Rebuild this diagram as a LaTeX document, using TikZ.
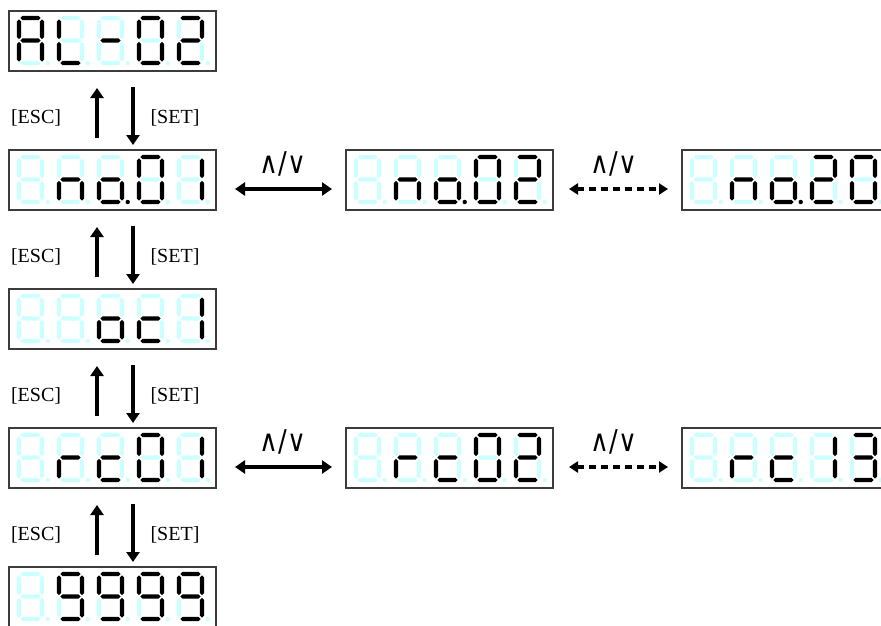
\documentclass[tikz,border=0pt]{standalone}
\usepackage{fontspec}
\setmainfont{Liberation Serif}
\newfontfamily\symfont[FakeStretch=0.86]{DejaVu Sans}
\usetikzlibrary{arrows.meta}
\definecolor{segoff}{RGB}{204,255,255}
\definecolor{boxline}{RGB}{60,60,60}
\newcommand\segsetcol[1]{\ifnum#1=1 \def\segcol{black}\else\def\segcol{segoff}\fi}
\newcommand\hs[3]{\segsetcol{#1}%
  \fill[fill=\segcol] (#2,#3) -- ++(2.2,-2.2) -- ++(16,0) -- ++(2.2,2.2) -- ++(-2.2,2.2) -- ++(-16,0) -- cycle;}
\newcommand\vs[3]{\segsetcol{#1}%
  \fill[fill=\segcol] (#2,#3) -- ++(2.2,2.2) -- ++(0,15.5) -- ++(-2.2,2.2) -- ++(-2.2,-2.2) -- ++(0,-15.5) -- cycle;}
\def\dgp#1#2#3#4#5#6#7#8\relax{%
  \hs{#1}{3.3}{2}%
  \vs{#2}{25}{3.3}%
  \vs{#3}{25}{25.8}%
  \hs{#4}{3.3}{47}%
  \vs{#5}{2}{25.8}%
  \vs{#6}{2}{3.3}%
  \hs{#7}{3.3}{24.5}%
  \segsetcol{#8}%
  \fill[fill=\segcol] (30.7,47) circle[radius=2.2];}
\newcommand\dg[3]{\begin{scope}[shift={(#1,#2)}]\expandafter\dgp#3\relax\end{scope}}
\newcommand\disp[8]{%
  \node[dispbox] (#1) at (#2,#3) {};
  \dg{#2+8}{#3+5}{#4}\dg{#2+48}{#3+5}{#5}\dg{#2+88}{#3+5}{#6}\dg{#2+128}{#3+5}{#7}\dg{#2+168}{#3+5}{#8}}
\def\dOff{00000000}
\def\dA{11101110}
\def\dL{00011100}
\def\dMinus{00000010}
\def\dZero{11111100}
\def\dTwo{11011010}
\def\dN{00101010}
\def\dOdot{00111011}
\def\dO{00111010}
\def\dOne{01100000}
\def\dC{00011010}
\def\dR{00001010}
\def\dThree{11110010}
\def\dNine{11110110}
\begin{document}
\begin{tikzpicture}[x=1pt,y=-1pt,
  dispbox/.style={draw=boxline,line width=1.2pt,fill=white,minimum width=207pt,minimum height=60pt,inner sep=0pt,outer sep=0pt,anchor=north west},
  varrow/.style={line width=4pt,-{Triangle[width=13pt,length=10pt]}},
  harrow/.style={line width=4pt,{Triangle[width=13pt,length=10pt]}-{Triangle[width=13pt,length=10pt]}},
  darrow/.style={line width=4pt,dash pattern=on 7pt off 5pt,{Triangle[width=11pt,length=9pt]}-{Triangle[width=11pt,length=9pt]}},
  keylabel/.style={font=\fontsize{20}{24}\selectfont,inner sep=0pt},
  navlabel/.style={font=\symfont\fontsize{30}{34}\selectfont,inner sep=0pt}]
\useasboundingbox (0,0) rectangle (881,626);
\disp{b1}{9}{11}{\dA}{\dL}{\dMinus}{\dZero}{\dTwo}
\disp{b2}{9}{150}{\dOff}{\dN}{\dOdot}{\dZero}{\dOne}
\disp{b3}{346}{150}{\dOff}{\dN}{\dOdot}{\dZero}{\dTwo}
\disp{b4}{682}{150}{\dOff}{\dN}{\dOdot}{\dTwo}{\dZero}
\disp{b5}{9}{289}{\dOff}{\dOff}{\dO}{\dC}{\dOne}
\disp{b6}{9}{428}{\dOff}{\dR}{\dC}{\dZero}{\dOne}
\disp{b7}{346}{428}{\dOff}{\dR}{\dC}{\dZero}{\dTwo}
\disp{b8}{682}{428}{\dOff}{\dR}{\dC}{\dOne}{\dThree}
\disp{b9}{9}{567}{\dOff}{\dNine}{\dNine}{\dNine}{\dNine}
% vertical arrows
\foreach \u/\l in {b1/b2,b2/b5,b5/b6,b6/b9}{
  \draw[varrow] ([xshift=88pt,yshift=12pt]\l.north west) -- ([xshift=88pt,yshift=-17pt]\u.south west);
  \draw[varrow] ([xshift=124pt,yshift=-16pt]\u.south west) -- ([xshift=124pt,yshift=5pt]\l.north west);
}
\node[keylabel] (esc1) at (36,118) {[ESC]};
\node[keylabel] (set1) at (175,118) {[SET]};
\node[keylabel] (esc2) at (36,257) {[ESC]};
\node[keylabel] (set2) at (175,257) {[SET]};
\node[keylabel] (esc3) at (36,396) {[ESC]};
\node[keylabel] (set3) at (175,396) {[SET]};
\node[keylabel] (esc4) at (36,535) {[ESC]};
\node[keylabel] (set4) at (175,535) {[SET]};
% horizontal arrows
\draw[harrow] ([xshift=19pt,yshift=-9pt]b2.east) -- ([xshift=-14pt,yshift=-9pt]b3.west);
\draw[darrow] ([xshift=16pt,yshift=-9pt]b3.east) -- ([xshift=-14pt,yshift=-9pt]b4.west);
\draw[harrow] ([xshift=19pt,yshift=-9pt]b6.east) -- ([xshift=-14pt,yshift=-9pt]b7.west);
\draw[darrow] ([xshift=16pt,yshift=-9pt]b7.east) -- ([xshift=-14pt,yshift=-9pt]b8.west);
\node[navlabel] (nav1) at (283,164) {∧/∨};
\node[navlabel] (nav2) at (614,164) {∧/∨};
\node[navlabel] (nav3) at (283,442) {∧/∨};
\node[navlabel] (nav4) at (614,442) {∧/∨};
\end{tikzpicture}
\end{document}
